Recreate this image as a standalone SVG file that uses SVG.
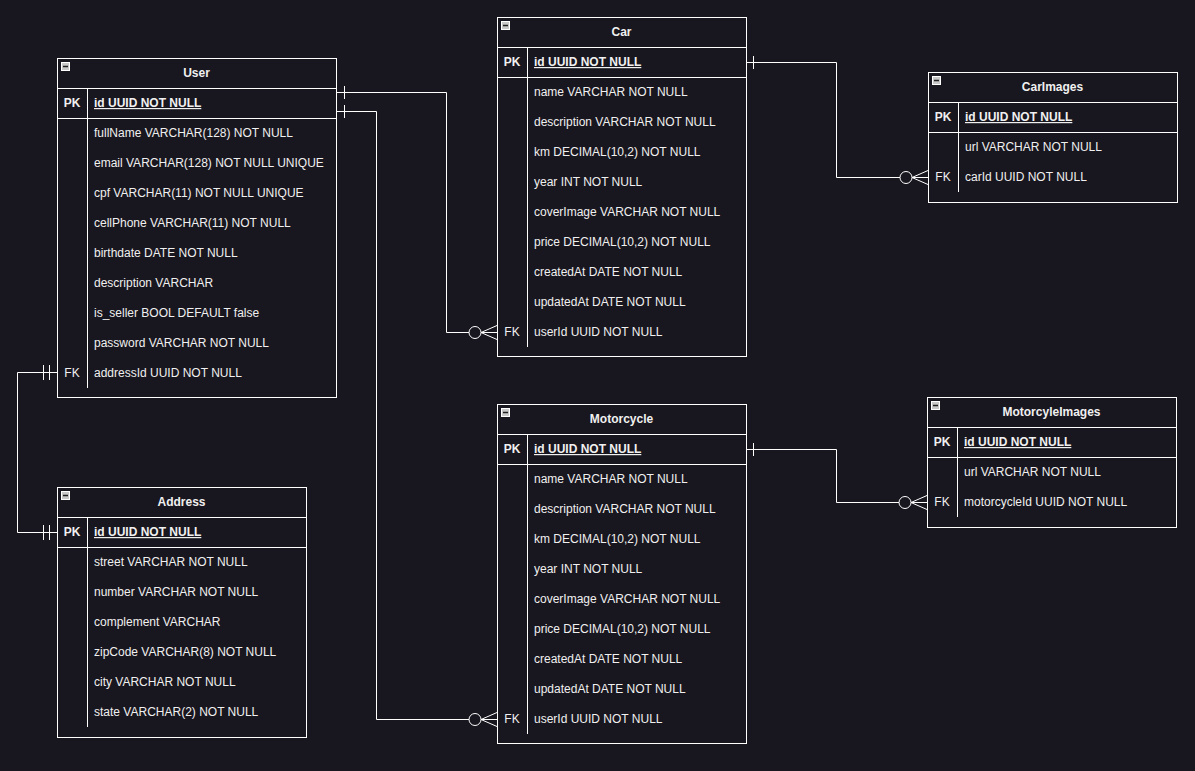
<svg xmlns="http://www.w3.org/2000/svg" width="1195" height="771" viewBox="0 0 1195 771">
<style>
.bg{fill:#18161e}
.box{fill:#18161e;stroke:#ffffff;stroke-width:1}
.ln{stroke:#ffffff;stroke-width:1;fill:none}
.t{font-family:"Liberation Sans",Arial,sans-serif;font-size:12px;fill:#f0f0f0}
.h{font-weight:bold;text-anchor:middle}
.k{font-weight:bold;text-anchor:middle}
.pk{font-weight:bold;text-decoration:underline}
.icon{fill:#c8c8c8;stroke:#ffffff;stroke-width:1}
.minus{stroke:#202020;stroke-width:1.5}
.conn{stroke:#ffffff;stroke-width:1;fill:none}
.circ{fill:#18161e;stroke:#ffffff;stroke-width:1}
</style>
<rect class="bg" x="0" y="0" width="1195" height="771"/>

<g id="User">
<rect class="box" x="57.5" y="58.5" width="279" height="339"/>
<line class="ln" x1="57" y1="88.5" x2="337" y2="88.5"/>
<line class="ln" x1="57" y1="118.5" x2="337" y2="118.5"/>
<line class="ln" x1="87.5" y1="88" x2="87.5" y2="118"/>
<line class="ln" x1="87.5" y1="118" x2="87.5" y2="388"/>
<rect class="icon" x="61.5" y="62.5" width="8" height="8"/><line class="minus" x1="63" y1="66.5" x2="68" y2="66.5"/>
<text class="t h" x="196.5" y="77">User</text>
<text class="t k" x="72" y="107">PK</text>
<text class="t pk" x="94" y="107">id UUID NOT NULL</text>
<text class="t" x="94" y="137">fullName VARCHAR(128) NOT NULL</text>
<text class="t" x="94" y="167">email VARCHAR(128) NOT NULL UNIQUE</text>
<text class="t" x="94" y="197">cpf VARCHAR(11) NOT NULL UNIQUE</text>
<text class="t" x="94" y="227">cellPhone VARCHAR(11) NOT NULL</text>
<text class="t" x="94" y="257">birthdate DATE NOT NULL</text>
<text class="t" x="94" y="287">description VARCHAR</text>
<text class="t" x="94" y="317">is_seller BOOL DEFAULT false</text>
<text class="t" x="94" y="347">password VARCHAR NOT NULL</text>
<text class="t k" x="72" y="377" style="font-weight:normal">FK</text>
<text class="t" x="94" y="377">addressId UUID NOT NULL</text>
</g>

<g id="Car">
<rect class="box" x="497.5" y="17.5" width="249" height="339"/>
<line class="ln" x1="497" y1="47.5" x2="747" y2="47.5"/>
<line class="ln" x1="497" y1="77.5" x2="747" y2="77.5"/>
<line class="ln" x1="527.5" y1="47" x2="527.5" y2="77"/>
<line class="ln" x1="527.5" y1="77" x2="527.5" y2="347"/>
<rect class="icon" x="501.5" y="21.5" width="8" height="8"/><line class="minus" x1="503" y1="25.5" x2="508" y2="25.5"/>
<text class="t h" x="621.5" y="36">Car</text>
<text class="t k" x="512" y="66">PK</text>
<text class="t pk" x="534" y="66">id UUID NOT NULL</text>
<text class="t" x="534" y="96">name VARCHAR NOT NULL</text>
<text class="t" x="534" y="126">description VARCHAR NOT NULL</text>
<text class="t" x="534" y="156">km DECIMAL(10,2) NOT NULL</text>
<text class="t" x="534" y="186">year INT NOT NULL</text>
<text class="t" x="534" y="216">coverImage VARCHAR NOT NULL</text>
<text class="t" x="534" y="246">price DECIMAL(10,2) NOT NULL</text>
<text class="t" x="534" y="276">createdAt DATE NOT NULL</text>
<text class="t" x="534" y="306">updatedAt DATE NOT NULL</text>
<text class="t k" x="512" y="336" style="font-weight:normal">FK</text>
<text class="t" x="534" y="336">userId UUID NOT NULL</text>
</g>

<g id="CarImages">
<rect class="box" x="928.5" y="72.5" width="249" height="130"/>
<line class="ln" x1="928" y1="102.5" x2="1178" y2="102.5"/>
<line class="ln" x1="928" y1="132.5" x2="1178" y2="132.5"/>
<line class="ln" x1="958.5" y1="102" x2="958.5" y2="132"/>
<line class="ln" x1="958.5" y1="132" x2="958.5" y2="192"/>
<rect class="icon" x="932.5" y="76.5" width="8" height="8"/><line class="minus" x1="934" y1="80.5" x2="939" y2="80.5"/>
<text class="t h" x="1052.5" y="91">CarImages</text>
<text class="t k" x="943" y="121">PK</text>
<text class="t pk" x="965" y="121">id UUID NOT NULL</text>
<text class="t" x="965" y="151">url VARCHAR NOT NULL</text>
<text class="t k" x="943" y="181" style="font-weight:normal">FK</text>
<text class="t" x="965" y="181">carId UUID NOT NULL</text>
</g>

<g id="Motorcycle">
<rect class="box" x="497.5" y="404.5" width="249" height="339"/>
<line class="ln" x1="497" y1="434.5" x2="747" y2="434.5"/>
<line class="ln" x1="497" y1="464.5" x2="747" y2="464.5"/>
<line class="ln" x1="527.5" y1="434" x2="527.5" y2="464"/>
<line class="ln" x1="527.5" y1="464" x2="527.5" y2="734"/>
<rect class="icon" x="501.5" y="408.5" width="8" height="8"/><line class="minus" x1="503" y1="412.5" x2="508" y2="412.5"/>
<text class="t h" x="621.5" y="423">Motorcycle</text>
<text class="t k" x="512" y="453">PK</text>
<text class="t pk" x="534" y="453">id UUID NOT NULL</text>
<text class="t" x="534" y="483">name VARCHAR NOT NULL</text>
<text class="t" x="534" y="513">description VARCHAR NOT NULL</text>
<text class="t" x="534" y="543">km DECIMAL(10,2) NOT NULL</text>
<text class="t" x="534" y="573">year INT NOT NULL</text>
<text class="t" x="534" y="603">coverImage VARCHAR NOT NULL</text>
<text class="t" x="534" y="633">price DECIMAL(10,2) NOT NULL</text>
<text class="t" x="534" y="663">createdAt DATE NOT NULL</text>
<text class="t" x="534" y="693">updatedAt DATE NOT NULL</text>
<text class="t k" x="512" y="723" style="font-weight:normal">FK</text>
<text class="t" x="534" y="723">userId UUID NOT NULL</text>
</g>

<g id="MotorcyleImages">
<rect class="box" x="927.5" y="397.5" width="249" height="130"/>
<line class="ln" x1="927" y1="427.5" x2="1177" y2="427.5"/>
<line class="ln" x1="927" y1="457.5" x2="1177" y2="457.5"/>
<line class="ln" x1="957.5" y1="427" x2="957.5" y2="457"/>
<line class="ln" x1="957.5" y1="457" x2="957.5" y2="517"/>
<rect class="icon" x="931.5" y="401.5" width="8" height="8"/><line class="minus" x1="933" y1="405.5" x2="938" y2="405.5"/>
<text class="t h" x="1051.5" y="416">MotorcyleImages</text>
<text class="t k" x="942" y="446">PK</text>
<text class="t pk" x="964" y="446">id UUID NOT NULL</text>
<text class="t" x="964" y="476">url VARCHAR NOT NULL</text>
<text class="t k" x="942" y="506" style="font-weight:normal">FK</text>
<text class="t" x="964" y="506">motorcycleId UUID NOT NULL</text>
</g>

<g id="Address">
<rect class="box" x="57.5" y="487.5" width="249" height="250"/>
<line class="ln" x1="57" y1="517.5" x2="307" y2="517.5"/>
<line class="ln" x1="57" y1="547.5" x2="307" y2="547.5"/>
<line class="ln" x1="87.5" y1="517" x2="87.5" y2="547"/>
<line class="ln" x1="87.5" y1="547" x2="87.5" y2="727"/>
<rect class="icon" x="61.5" y="491.5" width="8" height="8"/><line class="minus" x1="63" y1="495.5" x2="68" y2="495.5"/>
<text class="t h" x="181.5" y="506">Address</text>
<text class="t k" x="72" y="536">PK</text>
<text class="t pk" x="94" y="536">id UUID NOT NULL</text>
<text class="t" x="94" y="566">street VARCHAR NOT NULL</text>
<text class="t" x="94" y="596">number VARCHAR NOT NULL</text>
<text class="t" x="94" y="626">complement VARCHAR</text>
<text class="t" x="94" y="656">zipCode VARCHAR(8) NOT NULL</text>
<text class="t" x="94" y="686">city VARCHAR NOT NULL</text>
<text class="t" x="94" y="716">state VARCHAR(2) NOT NULL</text>
</g>

<g id="connectors">
<!-- User -> Car.userId -->
<path class="conn" d="M337,92.5 H446.5 V332.5 H469"/>
<line class="conn" x1="344.5" y1="86" x2="344.5" y2="99"/>
<circle class="circ" cx="475" cy="332.5" r="6"/>
<path class="conn" d="M481,332.5 L497,325.5 M481,332.5 L497,332.5 M481,332.5 L497,339.5"/>
<!-- User -> Motorcycle.userId -->
<path class="conn" d="M337,111.5 H376.5 V719.5 H469"/>
<line class="conn" x1="344.5" y1="105" x2="344.5" y2="118"/>
<circle class="circ" cx="475" cy="719.5" r="6"/>
<path class="conn" d="M481,719.5 L497,712.5 M481,719.5 L497,719.5 M481,719.5 L497,726.5"/>
<!-- Car -> CarImages.carId -->
<path class="conn" d="M747,62.5 H836.5 V177.5 H900"/>
<line class="conn" x1="753.5" y1="56" x2="753.5" y2="69"/>
<circle class="circ" cx="906" cy="177.5" r="6"/>
<path class="conn" d="M912,177.5 L928,170.5 M912,177.5 L928,177.5 M912,177.5 L928,184.5"/>
<!-- Motorcycle -> MotorcyleImages.motorcycleId -->
<path class="conn" d="M747,449.5 H836.5 V502.5 H899"/>
<line class="conn" x1="753.5" y1="443" x2="753.5" y2="456"/>
<circle class="circ" cx="905" cy="502.5" r="6"/>
<path class="conn" d="M911,502.5 L927,495.5 M911,502.5 L927,502.5 M911,502.5 L927,509.5"/>
<!-- User.addressId -> Address.PK -->
<path class="conn" d="M57,372.5 H17.5 V532.5 H57"/>
<line class="conn" x1="43.5" y1="365" x2="43.5" y2="380"/>
<line class="conn" x1="49.5" y1="365" x2="49.5" y2="380"/>
<line class="conn" x1="43.5" y1="525" x2="43.5" y2="540"/>
<line class="conn" x1="49.5" y1="525" x2="49.5" y2="540"/>
</g>
</svg>
